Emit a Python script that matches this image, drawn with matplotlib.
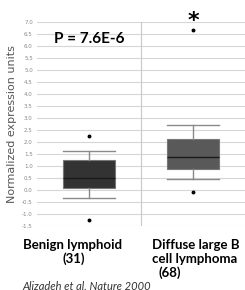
import matplotlib
matplotlib.use("Agg")
import matplotlib.pyplot as plt

# box stats
groups = ["Benign lymphoid", "Diffuse large B cell lymphoma"]
q1 = [0.08, 0.88]
med = [0.50, 1.36]
q3 = [1.25, 2.12]
whislo = [-0.35, 0.45]
whishi = [1.64, 2.70]
fliers = [[2.24, -1.27], [-0.10, 6.65]]
box_colors = ["#333333", "#595959"]
yticks = [-1.5, -1.0, -0.5, 0.0, 0.5, 1.0, 1.5, 2.0, 2.5, 3.0, 3.5, 4.0, 4.5, 5.0, 5.5, 6.0, 6.5, 7.0]

plt.rcParams['font.family'] = ['Lato', 'DejaVu Sans']

fig = plt.figure(figsize=(2.45, 2.9), dpi=100)
ax = fig.add_axes([37/245, 1 - 226/290, 208/245, 204/290])

stats = []
for i in range(len(groups)):
    stats.append(dict(med=med[i], q1=q1[i], q3=q3[i], whislo=whislo[i],
                      whishi=whishi[i], fliers=fliers[i]))

bp = ax.bxp(stats, positions=[0, 1], widths=0.5, patch_artist=True,
            boxprops=dict(edgecolor="#777777", linewidth=0.8),
            medianprops=dict(color="#1a1a1a", linewidth=1.0),
            whiskerprops=dict(color="#8a8a8a", linewidth=1.0),
            capprops=dict(color="#8a8a8a", linewidth=1.0),
            capwidths=0.5,
            flierprops=dict(marker="o", markersize=1.8, markerfacecolor="black",
                            markeredgecolor="black"))
for patch, c in zip(bp["boxes"], box_colors):
    patch.set_facecolor(c)
for fl in bp["fliers"]:
    fl.set_clip_on(False)

ax.set_xlim(-0.5, 1.5)
ax.set_ylim(-1.5, 7.0)
ax.set_yticks(yticks)
ax.set_yticklabels(["%.1f" % t for t in yticks], fontsize=4, color="#888888",
                   family="DejaVu Sans")
ax.tick_params(axis="y", length=0, pad=3)
ax.set_xticks([])
ax.yaxis.grid(True, color="#d6d6d6", linewidth=0.8)
ax.axvline(0.5, color="#c8c8c8", linewidth=0.8)
ax.set_axisbelow(True)
for s in ax.spines.values():
    s.set_visible(False)

ax.set_ylabel("Normalized expression units", fontsize=8, color="#555555",
              family="DejaVu Sans", labelpad=4)

ax.text(0.0, 6.3, "P = 7.6E-6", fontsize=11, fontweight="bold", ha="center",
        va="center")
ax.text(1.0, 7.05, "*", fontsize=16, fontweight="bold", ha="center", va="center",
        family="DejaVu Sans", clip_on=False)

lab = dict(fontsize=9.5, fontweight="bold", ha="center", va="center")
fig.text(72/245, 1 - 245/290, "Benign lymphoid", **lab)
fig.text(74/245, 1 - 259/290, "(31)", **lab)
fig.text(196/245, 1 - 245/290, "Diffuse large B", **lab)
fig.text(195/245, 1 - 259/290, "cell lymphoma", **lab)
fig.text(170/245, 1 - 273/290, "(68)", **lab)
fig.text(22/245, 1 - 286/290, "Alizadeh et al. Nature 2000", fontsize=8,
         style="italic", color="#333333", ha="left", va="center")

fig.savefig("out.png", dpi=100)
